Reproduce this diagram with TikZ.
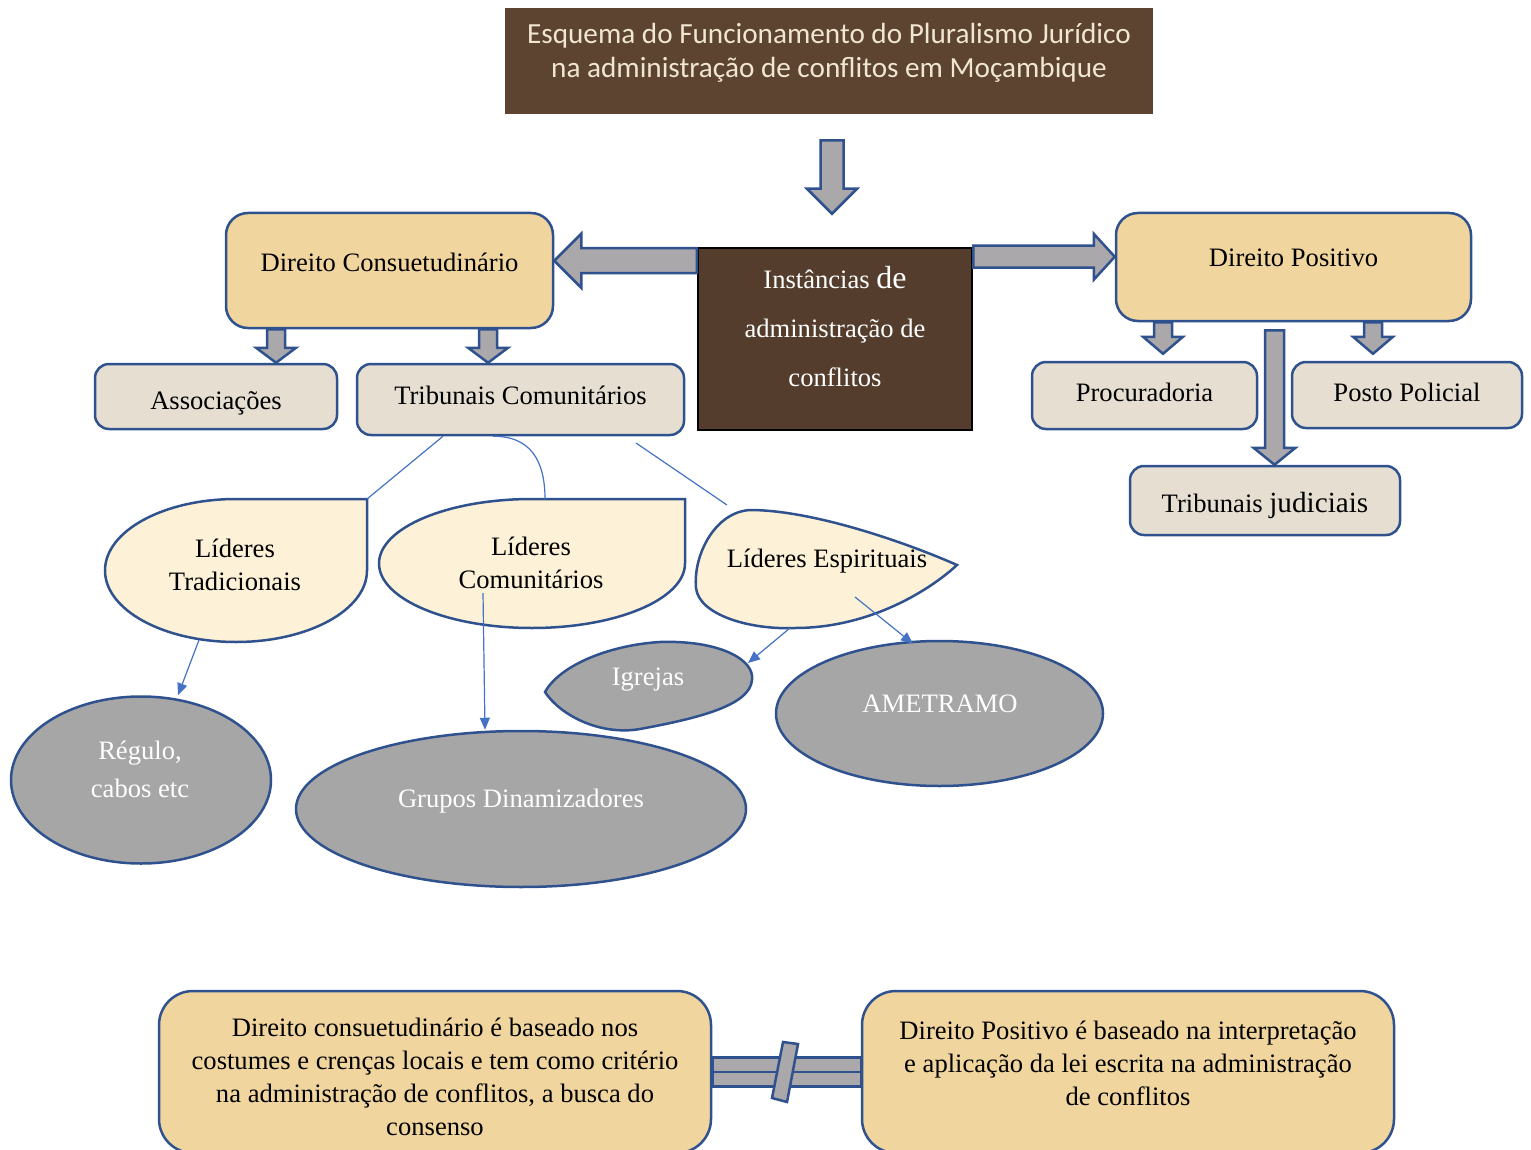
\documentclass[tikz,border=0pt]{standalone}
\usepackage{fontspec}
\setmainfont{Liberation Serif}
\newfontfamily\titlefont{Carlito}
\usetikzlibrary{arrows.meta,shapes.geometric,calc}
\definecolor{rim}{RGB}{47,82,143}
\definecolor{linkblue}{RGB}{68,114,196}
\definecolor{papyrus}{RGB}{240,214,158}
\definecolor{stone}{RGB}{229,222,209}
\definecolor{cream}{RGB}{253,241,215}
\definecolor{ash}{RGB}{166,166,166}
\definecolor{arrowgray}{RGB}{170,168,170}
\definecolor{marble}{RGB}{84,61,44}
\definecolor{bark}{RGB}{92,68,48}
\definecolor{ivory}{RGB}{240,230,210}

% block arrow: start, tip, shaft half width, head half width, head length
\newcommand{\blockarrow}[5]{%
  \path (#2) coordinate (bTip) ($(#2)!#5!(#1)$) coordinate (bBase);
  \draw[blockarr] ($(#1)!#3!90:(#2)$) -- ($(bBase)!#3!90:(bTip)$) -- ($(bBase)!#4!90:(bTip)$) -- (bTip)
    -- ($(bBase)!#4!-90:(bTip)$) -- ($(bBase)!#3!-90:(bTip)$) -- ($(#1)!#3!-90:(#2)$) -- cycle;}

\begin{document}
\begin{tikzpicture}[x=0.5pt, y=-0.5pt,
  txt/.style={font=\fontsize{13.3}{16.5}\selectfont, align=center},
  wtxt/.style={txt, text=white},
  box/.style={draw=rim, line width=1.25pt, rounded corners=7pt, inner sep=0pt, txt},
  papbox/.style={box, fill=papyrus, rounded corners=11pt},
  stonebox/.style={box, fill=stone},
  leaf/.style={draw=rim, line width=1.25pt, fill=cream},
  blob/.style={draw=rim, line width=1.25pt, fill=ash},
  grayell/.style={ellipse, blob, inner sep=0pt},
  blockarr/.style={draw=rim, line width=1.25pt, fill=arrowgray, line join=miter},
  tie/.style={draw=linkblue, line width=0.6pt},
  tiearrow/.style={tie, -{Triangle[length=6pt,width=5pt]}}]
\useasboundingbox (0,0) rectangle (1531,1150);
\clip (0,0) rectangle (1531,1150);

% title and centre
\node[fill=bark, minimum width=324pt, minimum height=53pt, inner sep=0pt, text=ivory, align=center,
  font=\titlefont\fontsize{14.6}{17}\selectfont, text height=35pt, text depth=18pt] (title) at (829,61)
  {Esquema do Funcionamento do Pluralismo Jurídico\\na administração de conflitos em Moçambique};
\node[fill=marble, draw=black, line width=1.25pt, minimum width=137pt, minimum height=91pt, inner sep=0pt,
  txt, text=white, font=\fontsize{13.3}{24.25}\selectfont, text height=69pt, text depth=22pt] (inst) at (835,339)
  {Instâncias {\fontsize{16}{24.25}\selectfont de}\\administração de\\conflitos};

% customary side
\node[papbox, minimum width=163.5pt, minimum height=57.5pt, text height=29pt, text depth=28.5pt] (dc) at (389.5,270.5) {Direito Consuetudinário};
\node[stonebox, minimum width=121pt, minimum height=32.5pt, text height=22.5pt, text depth=10pt] (assoc) at (216,396.5) {Associações};
\node[stonebox, minimum width=163.5pt, minimum height=35.5pt, text height=20pt, text depth=15.5pt] (tcom) at (520.5,399.5) {Tribunais Comunitários};

% positive side
\node[papbox, minimum width=177.5pt, minimum height=54pt, text height=27pt, text depth=27pt] (dp) at (1293.5,267) {Direito Positivo};
\node[stonebox, minimum width=112.5pt, minimum height=33.5pt, text height=19.5pt, text depth=14pt] (proc) at (1144.5,395.5) {Procuradoria};
\node[stonebox, minimum width=115pt, minimum height=33pt, text height=19.5pt, text depth=13.5pt] (posto) at (1407,395) {Posto Policial};
\node[stonebox, minimum width=135pt, minimum height=34.5pt, text height=23pt, text depth=11.5pt] (tjud) at (1265,500.5) {Tribunais {\fontsize{14.6}{16}\selectfont judiciais}};

% block arrows
\coordinate (a1) at ([xshift=1.5pt,yshift=-13pt]title.south);
\coordinate (a2) at ([xshift=-1.5pt,yshift=16.5pt]inst.north);
\blockarrow{a1}{a2}{5.75pt}{12.5pt}{12.5pt}
\coordinate (b1) at ([yshift=-7pt]inst.north west);
\coordinate (b2) at (dc.east |- b1);
\blockarrow{b1}{b2}{6.25pt}{13.5pt}{13.5pt}
\coordinate (c1) at ([yshift=-5pt]inst.north east);
\coordinate (c2) at (dp.west |- c1);
\blockarrow{c1}{c2}{5.5pt}{11.5pt}{10.5pt}
\coordinate (d1) at ([xshift=-56.75pt]dc.south);
\coordinate (d2) at ([xshift=30pt]assoc.north);
\blockarrow{d1}{d2}{4.5pt}{10pt}{7.5pt}
\coordinate (e1) at ([xshift=49.25pt]dc.south);
\coordinate (e2) at ([xshift=-16.25pt]tcom.north);
\blockarrow{e1}{e2}{4.5pt}{10pt}{7.5pt}
\coordinate (f1) at ([xshift=-65.25pt]dp.south);
\coordinate (f2) at ([xshift=9.25pt,yshift=3.5pt]proc.north);
\blockarrow{f1}{f2}{4.5pt}{10pt}{8.5pt}
\coordinate (g1) at ([xshift=39.75pt]dp.south);
\coordinate (g2) at ([xshift=-17pt,yshift=3.5pt]posto.north);
\blockarrow{g1}{g2}{4.5pt}{10pt}{8.5pt}
\coordinate (h1) at ([xshift=-9.5pt,yshift=-4pt]dp.south);
\coordinate (h2) at ([xshift=4.75pt]tjud.north);
\blockarrow{h1}{h2}{4.75pt}{10.5pt}{8.5pt}

% leaders
\draw[leaf] (367,499) coordinate (ltTip) -- (367,570.5) .. controls (367,610) and (308.3,642) .. (236,642)
  .. controls (163.7,642) and (105,610) .. (105,570.5) .. controls (105,531) and (163.7,499) .. (236,499) -- cycle;
\node[txt] (ltTxt) at (235,565) {Líderes\\Tradicionais};
\draw[leaf] (685,499) -- (685,563.5) .. controls (685,599.1) and (616.5,628) .. (532,628)
  .. controls (447.5,628) and (379,599.1) .. (379,563.5) .. controls (379,527.9) and (447.5,499) .. (532,499) -- cycle;
\node[txt] (lcTxt) at (531,563) {Líderes\\Comunitários};
\draw[leaf] (957,565) .. controls (900,540) and (810,510) .. (750,510) .. controls (715,512) and (693,555) .. (696,588)
  .. controls (699,615) and (750,630) .. (795,628) .. controls (870,628) and (930,590) .. (957,565) -- cycle;
\node[txt] (leTxt) at (827,561) {Líderes Espirituais};
\coordinate (ltFoot) at (199,640);
\coordinate (lcTop) at (545,499);
\coordinate (lcIn) at (483,593);
\coordinate (leTop) at (727,505);
\coordinate (leFoot) at (790,628);
\coordinate (leIn) at (855,597);

% gray ends
\node[grayell, minimum width=130pt, minimum height=83.5pt] (regulo) at (141,780) {};
\node[wtxt, font=\fontsize{13.3}{19}\selectfont] (regTxt) at (140,769) {Régulo,\\cabos etc};
\node[grayell, minimum width=225pt, minimum height=78pt] (grupos) at (521,809) {};
\node[wtxt] (gruTxt) at (521,801) {Grupos Dinamizadores};
\draw[blob] (545,692) .. controls (560,665) and (610,645) .. (660,642) .. controls (720,640) and (755,660) .. (752,680)
  .. controls (750,705) and (700,718) .. (640,729) .. controls (600,736) and (560,715) .. (545,692) -- cycle;
\node[wtxt] (igrTxt) at (648,680) {Igrejas};
\coordinate (igrRim) at (748,663);
\node[grayell, minimum width=163.5pt, minimum height=72.5pt] (amet) at (939.5,713.5) {};
\node[wtxt] (ametTxt) at (940,704) {AMETRAMO};

% thin links
\coordinate (leStart) at (636,443);
\draw[tie] ([xshift=-38.75pt]tcom.south) -- (ltTip);
\draw[tie] ([xshift=-13.75pt]tcom.south) .. controls (530,436) and (545,460) .. (lcTop);
\draw[tie] (leStart) -- (leTop);
\draw[tiearrow] (ltFoot) -- ([xshift=18.5pt]regulo.north);
\draw[tiearrow] (lcIn) -- ([xshift=-18pt]grupos.north);
\draw[tiearrow] (leFoot) -- (igrRim);
\draw[tiearrow] (leIn) -- ([xshift=-13.25pt,yshift=-2pt]amet.north);

% notes at the bottom
\node[papbox, rounded corners=17pt, minimum width=276pt, minimum height=81pt, text height=72pt, text depth=9pt] (consNote) at (435,1072)
  {Direito consuetudinário é baseado nos\\costumes e crenças locais e tem como critério\\na administração de conflitos, a busca do\\consenso};
\node[papbox, rounded corners=17pt, minimum width=266pt, minimum height=81pt, text height=57pt, text depth=24pt] (posNote) at (1128,1072)
  {Direito Positivo é baseado na interpretação\\e aplicação da lei escrita na administração\\de conflitos};
\coordinate (brk) at ($(consNote.east)!0.49!(posNote.west)$);
\draw[blockarr] ([yshift=7.25pt]consNote.east) rectangle ([yshift=-7.25pt]posNote.west);
\draw[draw=rim, line width=1.25pt] (consNote.east) -- (posNote.west);
\draw[blockarr] ($(brk)+(-2,-30)$) -- ($(brk)+(13,-28)$) -- ($(brk)+(2,30)$) -- ($(brk)+(-13,26)$) -- cycle;
\end{tikzpicture}
\end{document}
